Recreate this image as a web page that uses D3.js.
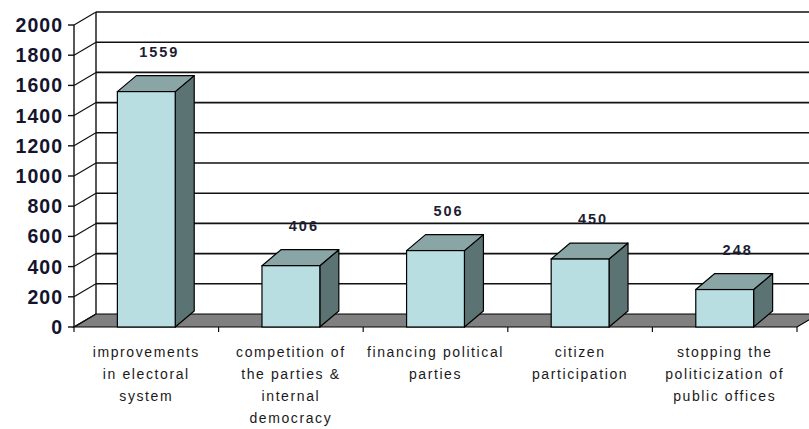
<!DOCTYPE html>
<html>
<head>
<meta charset="utf-8">
<script src="https://cdnjs.cloudflare.com/ajax/libs/d3/7.8.5/d3.min.js"></script>
<style>
  body { margin: 0; background: #fff; }
  svg { display: block; }
</style>
</head>
<body>
<svg id="chart" width="809" height="429"></svg>
<script>
// data
var categories = [
    ["improvements", "in electoral", "system"],
    ["competition of", "the parties &", "internal", "democracy"],
    ["financing political", "parties"],
    ["citizen", "participation"],
    ["stopping the", "politicization of", "public offices"]
];
var values = [1559, 406, 506, 450, 248];
var tickValues = [0, 200, 400, 600, 800, 1000, 1200, 1400, 1600, 1800, 2000];

var svg = d3.select("#chart");

// front plane of the plot
var plotLeft = 74, plotRight = 797, plotBottom = 327, plotTop = 25;
// depth of the walls and bars
var wallDx = 22, wallDy = -13;
var barDx = 19, barDy = -16;

var x = d3.scaleBand()
    .domain(d3.range(categories.length))
    .range([plotLeft, plotRight])
    .paddingInner(0)
    .paddingOuter(0);

var y = d3.scaleLinear().domain([0, 2000]).range([plotBottom, plotTop]);

var barW = x.bandwidth() * 0.4;

var g = svg.append("g");

// floor
g.append("path")
    .attr("d", "M" + plotLeft + "," + plotBottom + "L" + plotRight + "," + plotBottom +
        "L" + (plotRight + wallDx) + "," + (plotBottom + wallDy) +
        "L" + (plotLeft + wallDx) + "," + (plotBottom + wallDy) + "Z")
    .attr("fill", "#808080")
    .attr("stroke", "#000")
    .attr("stroke-width", 1.2);

// back wall grid lines
g.selectAll(".grid")
    .data(tickValues.filter(function(d) { return d > 0; }))
    .enter().append("line")
    .attr("class", "grid")
    .attr("x1", plotLeft + wallDx)
    .attr("x2", 830)
    .attr("y1", function(d) { return y(d) + wallDy; })
    .attr("y2", function(d) { return y(d) + wallDy; })
    .attr("stroke", "#111")
    .attr("stroke-width", 1.6);

// side wall diagonals
g.selectAll(".diag")
    .data(tickValues)
    .enter().append("line")
    .attr("x1", plotLeft)
    .attr("y1", function(d) { return y(d); })
    .attr("x2", plotLeft + wallDx)
    .attr("y2", function(d) { return y(d) + wallDy; })
    .attr("stroke", "#111")
    .attr("stroke-width", 1.2);

// back wall left edge
g.append("line")
    .attr("x1", plotLeft + wallDx).attr("x2", plotLeft + wallDx)
    .attr("y1", y(2000) + wallDy).attr("y2", y(0) + wallDy)
    .attr("stroke", "#111").attr("stroke-width", 1.4);

// front axis
g.append("line")
    .attr("x1", plotLeft).attr("x2", plotLeft)
    .attr("y1", y(2000)).attr("y2", y(0))
    .attr("stroke", "#111").attr("stroke-width", 1.4);

g.selectAll(".ytick")
    .data(tickValues)
    .enter().append("line")
    .attr("x1", plotLeft - 6).attr("x2", plotLeft)
    .attr("y1", function(d) { return y(d); })
    .attr("y2", function(d) { return y(d); })
    .attr("stroke", "#111").attr("stroke-width", 1.4);

g.selectAll(".ylabel")
    .data(tickValues)
    .enter().append("text")
    .attr("x", 63)
    .attr("y", function(d) { return y(d) + 7; })
    .attr("text-anchor", "end")
    .attr("font-family", "Liberation Sans, Arial, sans-serif")
    .attr("font-weight", "bold")
    .attr("font-size", 19.5)
    .attr("letter-spacing", 1)
    .attr("fill", "#14142e")
    .text(function(d) { return d; });

// category ticks on the floor edge
g.selectAll(".xtick")
    .data(d3.range(categories.length + 1))
    .enter().append("line")
    .attr("x1", function(i) { return plotLeft + i * x.step(); })
    .attr("x2", function(i) { return plotLeft + i * x.step(); })
    .attr("y1", plotBottom)
    .attr("y2", plotBottom + 5)
    .attr("stroke", "#111").attr("stroke-width", 1.2);

// bars
var bars = g.selectAll(".bar")
    .data(values)
    .enter().append("g")
    .attr("class", "bar");

function bx(i) { return x(i) + (x.bandwidth() - barW) / 2; }

bars.append("path") // side
    .attr("d", function(d, i) {
        var x0 = bx(i) + barW;
        return "M" + x0 + "," + y(d) + "L" + (x0 + barDx) + "," + (y(d) + barDy) +
            "L" + (x0 + barDx) + "," + (y(0) + barDy) + "L" + x0 + "," + y(0) + "Z";
    })
    .attr("fill", "#5c7373")
    .attr("stroke", "#000")
    .attr("stroke-width", 1.2)
    .attr("stroke-linejoin", "round");

bars.append("path") // top
    .attr("d", function(d, i) {
        var x0 = bx(i);
        return "M" + x0 + "," + y(d) + "L" + (x0 + barDx) + "," + (y(d) + barDy) +
            "L" + (x0 + barW + barDx) + "," + (y(d) + barDy) + "L" + (x0 + barW) + "," + y(d) + "Z";
    })
    .attr("fill", "#8aa5a6")
    .attr("stroke", "#000")
    .attr("stroke-width", 1.2)
    .attr("stroke-linejoin", "round");

bars.append("rect") // front
    .attr("x", function(d, i) { return bx(i); })
    .attr("y", function(d) { return y(d); })
    .attr("width", barW)
    .attr("height", function(d) { return y(0) - y(d); })
    .attr("fill", "#b8dee2")
    .attr("stroke", "#000")
    .attr("stroke-width", 1.2);

// value labels
g.selectAll(".val")
    .data(values)
    .enter().append("text")
    .attr("x", function(d, i) { return x(i) + x.bandwidth() / 2 + 13; })
    .attr("y", function(d) { return y(d) - 35; })
    .attr("text-anchor", "middle")
    .attr("font-family", "Liberation Sans, Arial, sans-serif")
    .attr("font-weight", "bold")
    .attr("font-size", 14.5)
    .attr("letter-spacing", 2)
    .attr("fill", "#1d1d33")
    .text(function(d) { return d; });

// category labels
var cat = g.selectAll(".cat")
    .data(categories)
    .enter().append("text")
    .attr("text-anchor", "middle")
    .attr("font-family", "Liberation Sans, Arial, sans-serif")
    .attr("font-size", 14)
    .attr("letter-spacing", 1.6)
    .attr("fill", "#1a1a1a");

cat.selectAll("tspan")
    .data(function(d, i) { return d.map(function(s) { return {s: s, i: i}; }); })
    .enter().append("tspan")
    .attr("x", function(d) { return x(d.i) + x.bandwidth() / 2; })
    .attr("y", function(d, j) { return 357 + j * 22; })
    .text(function(d) { return d.s; });
</script>
</body>
</html>
